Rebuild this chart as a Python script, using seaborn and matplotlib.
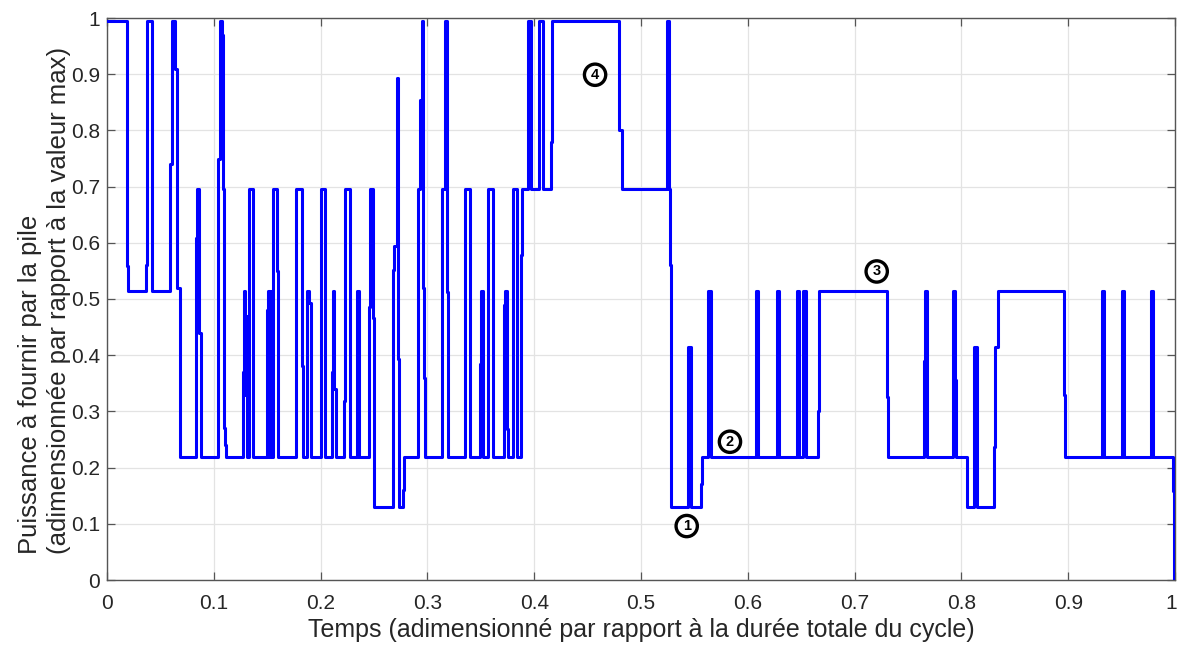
import matplotlib
matplotlib.use("Agg")
import matplotlib.pyplot as plt
from matplotlib.transforms import ScaledTranslation
import seaborn as sns
import pandas as pd

# ---- data: breakpoints of the step signal (time, value held until next time) ----
temps = [
    0.0000, 0.0184, 0.0200, 0.0362, 0.0378, 0.0418, 0.0590, 0.0605, 0.0637, 0.0652,
    0.0684, 0.0830, 0.0840, 0.0865, 0.0877, 0.1042, 0.1058, 0.1074, 0.1083, 0.1096,
    0.1102, 0.1111, 0.1270, 0.1280, 0.1292, 0.1300, 0.1310, 0.1330, 0.1370, 0.1495,
    0.1505, 0.1512, 0.1525, 0.1532, 0.1545, 0.1551, 0.1582, 0.1595, 0.1604, 0.1770,
    0.1823, 0.1832, 0.1876, 0.1891, 0.1910, 0.2001, 0.2041, 0.2104, 0.2112, 0.2129,
    0.2141, 0.2222, 0.2230, 0.2275, 0.2338, 0.2345, 0.2363, 0.2453, 0.2462, 0.2494,
    0.2503, 0.2675, 0.2690, 0.2712, 0.2728, 0.2737, 0.2775, 0.2784, 0.2909, 0.2931,
    0.2952, 0.2962, 0.2971, 0.2980, 0.3134, 0.3140, 0.3165, 0.3180, 0.3196, 0.3352,
    0.3399, 0.3493, 0.3500, 0.3518, 0.3571, 0.3617, 0.3717, 0.3724, 0.3742, 0.3750,
    0.3798, 0.3805, 0.3842, 0.3880, 0.3890, 0.3945, 0.3970, 0.4048, 0.4079, 0.4154,
    0.4170, 0.4797, 0.4819, 0.5240, 0.5262, 0.5271, 0.5281, 0.5443, 0.5465, 0.5559,
    0.5574, 0.5630, 0.5652, 0.6074, 0.6099, 0.6270, 0.6295, 0.6458, 0.6479, 0.6520,
    0.6542, 0.6654, 0.6667, 0.7300, 0.7316, 0.7653, 0.7660, 0.7675, 0.7918, 0.7940,
    0.7946, 0.8049, 0.8121, 0.8143, 0.8305, 0.8315, 0.8346, 0.8961, 0.8970, 0.9313,
    0.9320, 0.9338, 0.9501, 0.9522, 0.9772, 0.9791, 0.9978, 0.9991, 1.0000,
]
puissance = [
    0.995, 0.558, 0.515, 0.560, 0.995, 0.515, 0.740, 0.995, 0.910, 0.520,
    0.218, 0.608, 0.695, 0.440, 0.218, 0.750, 0.995, 0.970, 0.695, 0.270,
    0.240, 0.218, 0.370, 0.515, 0.330, 0.470, 0.218, 0.695, 0.218, 0.480,
    0.218, 0.515, 0.218, 0.515, 0.218, 0.695, 0.695, 0.550, 0.218, 0.695,
    0.380, 0.218, 0.515, 0.493, 0.218, 0.695, 0.218, 0.370, 0.515, 0.340,
    0.218, 0.319, 0.695, 0.218, 0.480, 0.515, 0.218, 0.486, 0.695, 0.466,
    0.130, 0.552, 0.595, 0.894, 0.394, 0.130, 0.160, 0.218, 0.695, 0.854,
    0.995, 0.520, 0.360, 0.218, 0.302, 0.695, 0.995, 0.512, 0.218, 0.695,
    0.218, 0.384, 0.515, 0.218, 0.695, 0.218, 0.490, 0.515, 0.269, 0.218,
    0.380, 0.695, 0.218, 0.578, 0.695, 0.995, 0.695, 0.995, 0.695, 0.780,
    0.995, 0.800, 0.695, 0.995, 0.695, 0.560, 0.130, 0.414, 0.130, 0.170,
    0.218, 0.515, 0.218, 0.515, 0.218, 0.515, 0.218, 0.515, 0.218, 0.515,
    0.218, 0.300, 0.515, 0.325, 0.218, 0.390, 0.515, 0.218, 0.515, 0.355,
    0.218, 0.130, 0.415, 0.130, 0.237, 0.415, 0.515, 0.329, 0.218, 0.387,
    0.515, 0.218, 0.515, 0.218, 0.515, 0.218, 0.159, 0.000, 0.000,
]

marqueurs = ["1", "2", "3", "4"]
marqueurs_x = [0.5428, 0.5833, 0.7207, 0.4570]
marqueurs_y = [0.096, 0.246, 0.549, 0.899]

tick_vals = [0, 0.1, 0.2, 0.3, 0.4, 0.5, 0.6, 0.7, 0.8, 0.9, 1]
tick_labels = ["0", "0.1", "0.2", "0.3", "0.4", "0.5", "0.6", "0.7", "0.8", "0.9", "1"]

xlabel = "Temps (adimensionné par rapport à la durée totale du cycle)"
ylabel = "Puissance à fournir par la pile\n(adimensionnée par rapport à la valeur max)"

# ---- figure ----
sns.set_theme(style="white")
plt.rcParams["font.family"] = ["Liberation Sans", "DejaVu Sans"]

fig = plt.figure(figsize=(11.78, 6.46), dpi=100)
ax = fig.add_axes([107 / 1178, 1 - 580 / 646, 1068 / 1178, 562 / 646])

df = pd.DataFrame({"t": temps, "p": puissance})
sns.lineplot(data=df, x="t", y="p", ax=ax, color="#0000ff", linewidth=2.2,
             drawstyle="steps-post", estimator=None, sort=False, zorder=3)

ax.set_xlim(0, 1)
ax.set_ylim(0, 1)
ax.set_xticks(tick_vals)
ax.set_xticklabels(tick_labels)
ax.set_yticks(tick_vals)
ax.set_yticklabels(tick_labels)

ax.grid(True, color="#e3e3e3", linewidth=0.9, zorder=0)
ax.set_axisbelow(True)

for s in ax.spines.values():
    s.set_color("#555555")
    s.set_linewidth(1.0)
    s.set_visible(True)

ax.tick_params(axis="both", which="both", direction="in", length=6, width=0.9,
               color="#555555", labelsize=15, labelcolor="#262626",
               top=True, right=True, bottom=True, left=True)
ax.tick_params(axis="x", pad=10)
ax.tick_params(axis="y", pad=5)

# keep the last x tick label inside the canvas
last = ax.get_xticklabels()[-1]
last.set_transform(last.get_transform() + ScaledTranslation(-4 / 100, 0, fig.dpi_scale_trans))

ax.set_xlabel(xlabel, fontsize=18, color="#262626", labelpad=4)
ax.set_ylabel(ylabel, fontsize=18.5, color="#262626", linespacing=1.25,
              multialignment="left")
ax.yaxis.set_label_coords(-0.034, 0.497)

for lab, xm, ym in zip(marqueurs, marqueurs_x, marqueurs_y):
    ax.text(xm, ym, lab, ha="center", va="center", fontsize=10.5, fontweight="bold",
            color="black", zorder=5,
            bbox=dict(boxstyle="circle,pad=0.25", fc="white", ec="black", lw=2.4))

fig.savefig("out.png", dpi=100)
